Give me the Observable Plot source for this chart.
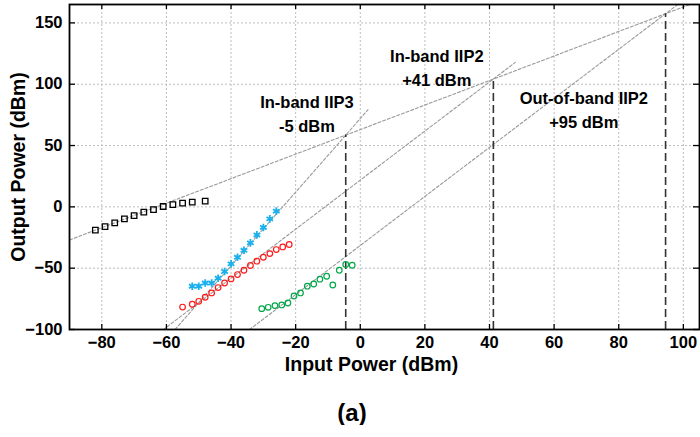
<!DOCTYPE html>
<html>
<head>
<meta charset="utf-8">
<script src="https://cdn.jsdelivr.net/npm/d3@7"></script>
<script src="https://cdn.jsdelivr.net/npm/@observablehq/plot@0.6"></script>
<style>
  body { margin: 0; background: #fff; font-family: "Liberation Sans", Arial, sans-serif; }
  #caption { width: 700px; text-align: center; font-weight: bold; font-size: 24px; line-height: 24px; margin-top: 11px; padding-left: 4px; box-sizing: border-box; }
</style>
</head>
<body>
<div id="chart"></div>
<div id="caption">(a)</div>
<script>
// ---- data ----
const fundX = [-82, -79, -76, -73, -70, -67, -64, -61, -58, -55, -52, -48];
const fundY = [-18.9, -16.1, -13.1, -9.8, -7.1, -4.3, -2.2, 0.3, 1.9, 3.0, 3.8, 4.7];

const im3X = [-52, -50, -48, -46, -44, -42, -40, -38, -36, -34, -32, -30, -28, -26];
const im3Y = [-64.7, -64.7, -62.1, -62.1, -58.2, -52.7, -46.5, -41.1, -35.4, -29.4, -22.9, -16.8, -9.8, -3.5];

const im2X = [-55, -52, -50, -48, -46, -44, -42, -40, -38, -36, -34, -32, -30, -28, -26, -24, -22];
const im2Y = [-81.7, -79.4, -77.0, -73.7, -70.2, -65.8, -62.1, -58.8, -55.2, -51.7, -47.8, -44.3, -41.1, -38.1, -34.8, -32.7, -30.7];

const oobX = [-30.5, -28.5, -26.4, -24.3, -22.4, -20.5, -18.5, -16.4, -14.4, -12.5, -10.4, -8.5, -6.5, -4.5, -2.5];
const oobY = [-83.0, -81.9, -80.5, -80.0, -78.4, -72.7, -70.2, -64.7, -62.9, -59.0, -56.6, -63.7, -51.7, -47.0, -47.6];

// intercept points (input, output) and their labels
const interceptX = [-4.5, 41.2, 94.5];
const interceptY = [58.5, 104.2, 157.5];
const interceptName = ["In-band IIP3", "In-band IIP2", "Out-of-band IIP2"];
const interceptValue = ["-5 dBm", "+41 dBm", "+95 dBm"];
const labelX = [-16.5, 23.7, 69.2];
const labelY = [74.8, 112.7, 78.4];

// extrapolation lines: slope, anchor intercept index, x range
const lineSlope = [1, 3, 2, 2];
const lineAnchor = [1, 0, 1, 2];
const lineFrom = [-90, -57.3, -61, -34.3];
const lineTo = [105, 2.4, 48, 105];

const xTicks = [-80, -60, -40, -20, 0, 20, 40, 60, 80, 100];
const yTicks = [-100, -50, 0, 50, 100, 150];

// ---- build tables ----
const zip = (xs, ys) => xs.map((x, i) => ({x, y: ys[i]}));
const extraLines = [];
lineSlope.forEach((s, i) => {
  const a = lineAnchor[i];
  for (const x of [lineFrom[i], lineTo[i]]) {
    extraLines.push({id: i, x, y: interceptY[a] + s * (x - interceptX[a])});
  }
});
const intercepts = interceptX.map((x, i) => ({x, y: interceptY[i], name: interceptName[i], value: interceptValue[i], lx: labelX[i], ly: labelY[i]}));

const W = 700, H = 390, mL = 69, mR = 1, mT = 4, mB = 61;
const pw = W - mL - mR, ph = H - mT - mB;
const font = "'Liberation Sans', Arial, sans-serif";

const chart = Plot.plot({
  width: W, height: H,
  marginLeft: mL, marginRight: mR, marginTop: mT, marginBottom: mB,
  style: {fontFamily: font, background: "#fff"},
  x: {domain: [-90, 105]},
  y: {domain: [-100, 165]},
  marks: [
    Plot.gridX(xTicks, {stroke: "#bdbdbd", strokeOpacity: 1, strokeDasharray: "2,2"}),
    Plot.gridY(yTicks.filter(d => d > -100), {stroke: "#bdbdbd", strokeOpacity: 1, strokeDasharray: "2,2"}),
    Plot.line(extraLines, {x: "x", y: "y", z: "id", stroke: "#999", strokeWidth: 1.1, strokeDasharray: "3,2", clip: true}),
    Plot.ruleX(intercepts, {x: "x", y1: -100, y2: "y", stroke: "#333", strokeWidth: 1.6, strokeDasharray: "8,4", clip: true}),
    Plot.dot(zip(fundX, fundY), {x: "x", y: "y", symbol: "square", r: 3.1, stroke: "#000", strokeWidth: 1.3, fill: "none"}),
    Plot.dot(zip(im3X, im3Y), {x: "x", y: "y", symbol: "asterisk", r: 3.6, stroke: "#1ab0ec", strokeWidth: 1.8}),
    Plot.dot(zip(im2X, im2Y), {x: "x", y: "y", symbol: "circle", r: 2.8, stroke: "#ff1a1a", strokeWidth: 1.2, fill: "none"}),
    Plot.dot(zip(oobX, oobY), {x: "x", y: "y", symbol: "circle", r: 2.8, stroke: "#00a84a", strokeWidth: 1.2, fill: "none"}),
    Plot.text(intercepts, {x: "lx", y: "ly", text: "name", fontSize: 16.5, fontWeight: "bold", fill: "#000", dy: -12}),
    Plot.text(intercepts, {x: "lx", y: "ly", text: "value", fontSize: 16.5, fontWeight: "bold", fill: "#000", dy: 12}),
    // inward ticks on all four sides
    Plot.tickX(xTicks, {x: d => d, insetTop: ph - 5, stroke: "#000", strokeWidth: 1.3}),
    Plot.tickX(xTicks, {x: d => d, insetBottom: ph - 5, stroke: "#000", strokeWidth: 1.3}),
    Plot.tickY(yTicks, {y: d => d, insetRight: pw - 6, stroke: "#000", strokeWidth: 1.3}),
    Plot.tickY(yTicks, {y: d => d, insetLeft: pw - 6, stroke: "#000", strokeWidth: 1.3}),
    Plot.frame({stroke: "#000", strokeWidth: 1.8}),
    Plot.axisX(xTicks, {tickSize: 0, tickPadding: 7, fontSize: 16.5, fontWeight: "bold", fill: "#000", label: null}),
    Plot.axisY(yTicks, {tickSize: 0, tickPadding: 7, fontSize: 16.5, fontWeight: "bold", fill: "#000", label: null}),
    Plot.text(["Input Power (dBm)"], {frameAnchor: "bottom", dx: -13, dy: 41, textAnchor: "middle", fontSize: 19.5, fontWeight: "bold", fill: "#000"}),
    Plot.text(["Output Power (dBm)"], {frameAnchor: "left", dx: -51, textAnchor: "middle", rotate: -90, fontSize: 19.5, fontWeight: "bold", fill: "#000"})
  ]
});
document.getElementById("chart").appendChild(chart);
</script>
</body>
</html>
